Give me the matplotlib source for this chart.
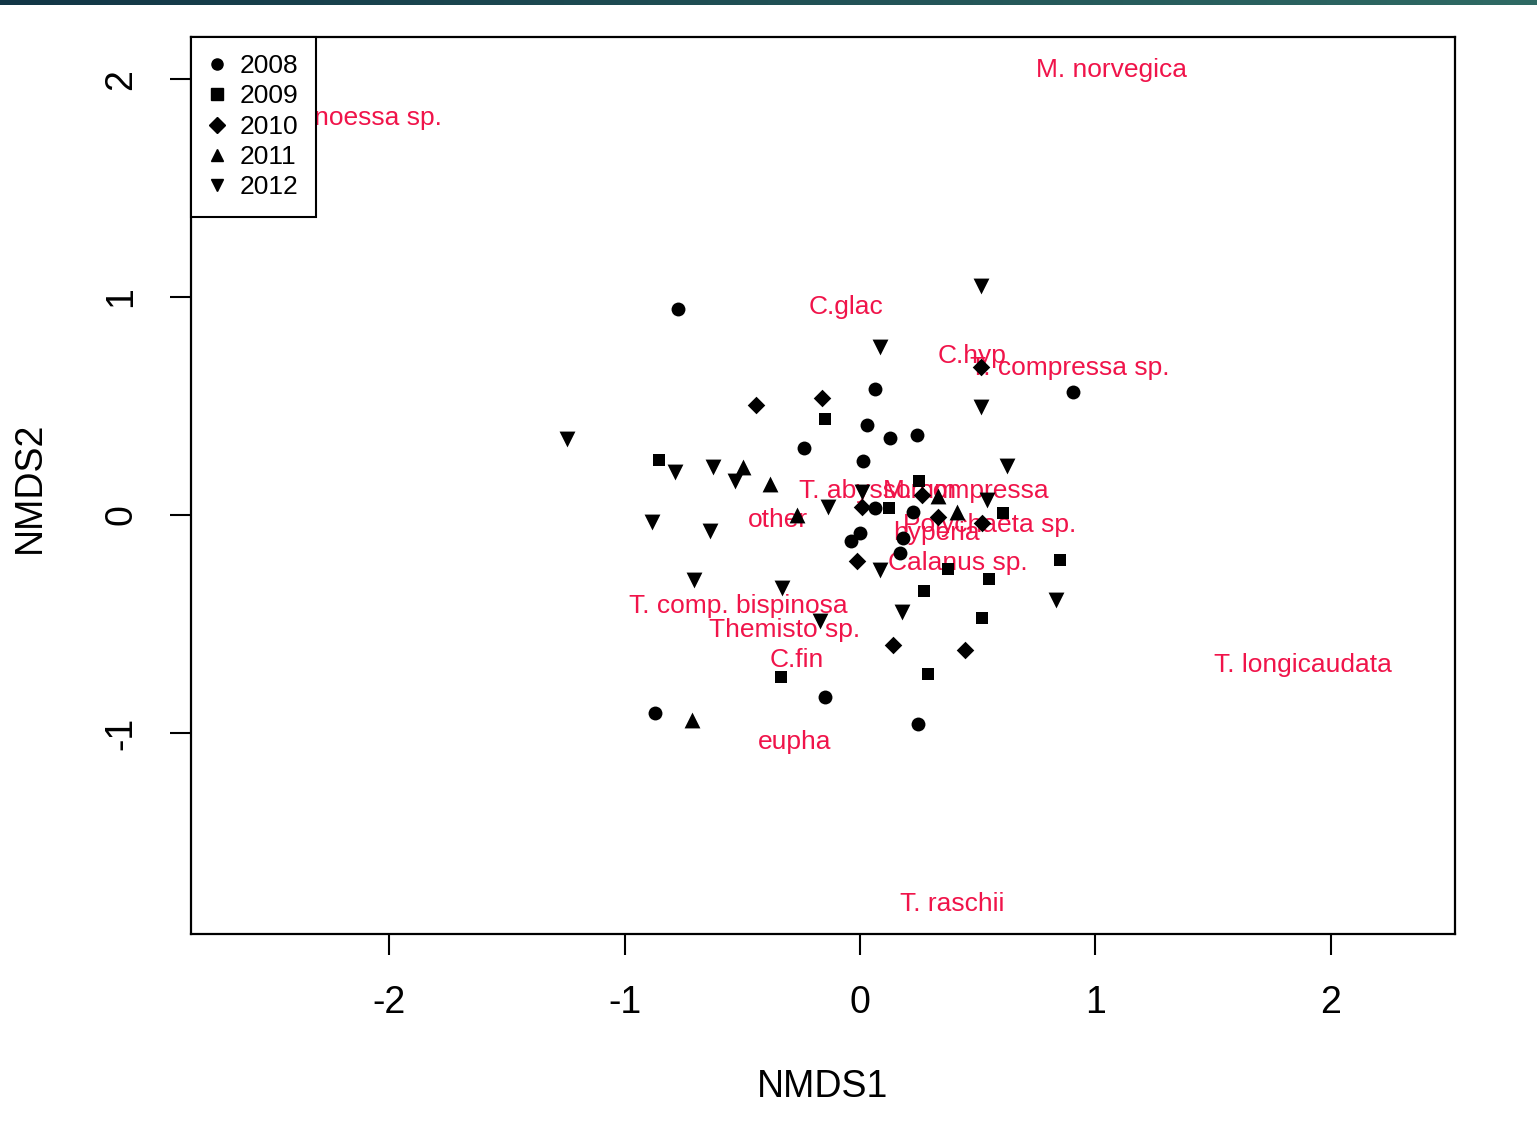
import numpy as np
import matplotlib
matplotlib.use('Agg')
from matplotlib import pyplot as plt
from matplotlib.lines import Line2D

plt.rcParams['font.family'] = ['Liberation Sans', 'DejaVu Sans']

# NMDS site scores per year
x2008 = [-0.773, 0.064, 0.905, 0.030, 0.127, 0.242, -0.238, 0.013, 0.225, 0.000,
         -0.038, 0.183, 0.170, -0.149, -0.871, 0.246, 0.064]
y2008 = [0.945, 0.578, 0.564, 0.413, 0.353, 0.367, 0.307, 0.248, 0.014, -0.083,
         -0.119, -0.106, -0.174, -0.835, -0.908, -0.959, 0.032]

x2009 = [-0.854, 0.251, 0.123, 0.608, 0.850, 0.374, 0.548, 0.272, 0.518, 0.289, -0.336, -0.149]
y2009 = [0.252, 0.156, 0.032, 0.009, -0.206, -0.248, -0.294, -0.349, -0.472, -0.729, -0.743, 0.440]

x2010 = [-0.442, -0.161, 0.514, 0.263, 0.331, 0.518, -0.013, 0.009, 0.140, 0.446]
y2010 = [0.505, 0.537, 0.679, 0.092, -0.009, -0.037, -0.211, 0.037, -0.596, -0.619]

x2011 = [-0.497, -0.382, -0.268, 0.331, 0.412, -0.714]
y2011 = [0.220, 0.142, 0.000, 0.087, 0.014, -0.940]

x2012 = [0.514, 0.085, 0.514, -1.245, -0.786, -0.625, -0.531, 0.625, -0.884, -0.637,
         0.009, -0.136, 0.540, -0.705, -0.331, 0.085, 0.178, 0.833, -0.170]
y2012 = [1.050, 0.771, 0.495, 0.349, 0.197, 0.220, 0.156, 0.225, -0.032, -0.073,
         0.106, 0.037, 0.069, -0.298, -0.335, -0.252, -0.445, -0.390, -0.486]

# species scores
species = ['Thysanoessa sp.', 'M. norvegica', 'C.glac', 'C.hyp', 'T. compressa sp.',
           'T. abyssorum', 'M. compressa', 'other', 'Polychaeta sp.', 'hyperia',
           'Calanus sp.', 'T. comp. bispinosa', 'Themisto sp.', 'C.fin', 'eupha',
           'T. longicaudata', 'T. raschii']
sp_x = [-2.200, 1.067, -0.060, 0.476, 0.892, 0.076, 0.450, -0.348, 0.552, 0.327,
        0.416, -0.518, -0.319, -0.268, -0.276, 1.883, 0.391]
sp_y = [1.821, 2.041, 0.954, 0.729, 0.674, 0.110, 0.110, -0.023, -0.046, -0.083,
        -0.220, -0.417, -0.528, -0.665, -1.041, -0.688, -1.784]

years = ['2008', '2009', '2010', '2011', '2012']
markers = ['o', 's', 'D', '^', 'v']
sizes = [100, 85, 80, 130, 130]
xs = [x2008, x2009, x2010, x2011, x2012]
ys = [y2008, y2009, y2010, y2011, y2012]

fig = plt.figure(figsize=(15.37, 11.47), dpi=100)
ax = fig.add_axes([191/1537, 1-934/1147, (1455-191)/1537, (934-37)/1147])

# labels first, points drawn over them
for name, sx, sy in zip(species, sp_x, sp_y):
    ax.text(sx, sy, name, color='#f0144a', fontsize=19, ha='center', va='center', zorder=3)

for i in range(5):
    ax.scatter(xs[i], ys[i], marker=markers[i], s=sizes[i], c='black',
               linewidths=0, zorder=4)

ax.set_xlim(-2.843, 2.529)
ax.set_ylim(-1.922, 2.193)
ax.set_xticks([-2, -1, 0, 1, 2])
ax.set_yticks([-1, 0, 1, 2])
ax.set_xticklabels(['-2', '-1', '0', '1', '2'], fontsize=27)
ax.set_yticklabels(['-1', '0', '1', '2'], fontsize=27, rotation=90, va='center')
ax.tick_params(direction='out', length=15, width=1.5, pad=22)
for s in ax.spines.values():
    s.set_linewidth(1.6)

handles = [Line2D([], [], marker=m, color='black', linestyle='None', markersize=8)
           for m in markers]
leg = ax.legend(handles, years, loc='upper left', bbox_to_anchor=(0, 1),
                borderaxespad=0, fontsize=19, frameon=True, fancybox=False,
                edgecolor='black', framealpha=1, labelspacing=0.24,
                handlelength=0.7, handletextpad=0.5, borderpad=0.65)
leg.get_frame().set_linewidth(1.5)
leg.set_zorder(10)

fig.text(823/1537, 1-1087/1147, 'NMDS1', fontsize=27, ha='center', va='center')
fig.text(30/1537, 1-487/1147, 'NMDS2', fontsize=27, ha='center', va='center', rotation=90)

# dark slide bar at the top
bar = fig.add_axes([0, 1-5/1147, 1, 5/1147])
bar.imshow(np.linspace(0, 1, 256).reshape(1, -1), aspect='auto',
           cmap=matplotlib.colors.LinearSegmentedColormap.from_list('t', ['#123646', '#2f6a64']))
bar.axis('off')

fig.savefig('out.png', dpi=100)
